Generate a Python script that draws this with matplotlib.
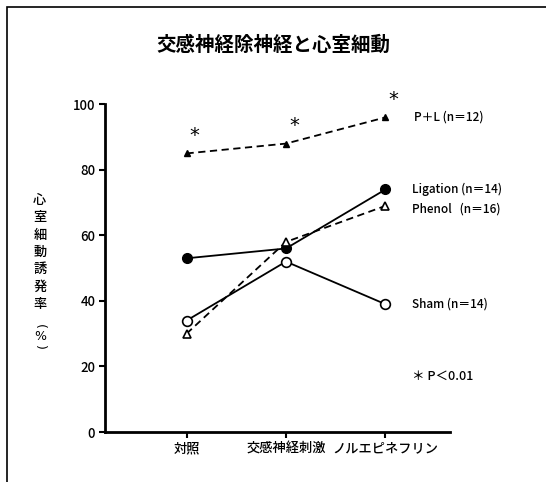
import matplotlib.pyplot as plt
from matplotlib.patches import Rectangle

plt.rcParams['font.family'] = ['Noto Sans CJK JP', 'DejaVu Sans']

categories = ['対照', '交感神経刺激', 'ノルエピネフリン']
pl_vals = [85, 88, 96]
ligation_vals = [53, 56, 74]
phenol_vals = [30, 58, 69]
sham_vals = [34, 52, 39]
series_labels = ['P＋L (n＝12)', 'Ligation (n＝14)', 'Phenol   (n＝16)', 'Sham (n＝14)']
yticks = [0, 20, 40, 60, 80, 100]
ylabel_chars = ['心', '室', '細', '動', '誘', '発', '率']

fig = plt.figure(figsize=(5.46, 4.82), dpi=100)
ax = fig.add_axes([0.1923, 0.1037, 0.632, 0.680])
x = list(range(len(categories)))

ax.plot(x, pl_vals, ls=(0, (4, 2.5)), color='black', lw=1.3, marker='^', ms=5,
        mfc='black', mec='black')
ax.plot(x, ligation_vals, ls='-', color='black', lw=1.3, marker='o', ms=7,
        mfc='black', mec='black')
ax.plot(x, phenol_vals, ls=(0, (4, 2.5)), color='black', lw=1.3, marker='^', ms=6,
        mfc='white', mec='black', mew=1.2)
ax.plot(x, sham_vals, ls='-', color='black', lw=1.3, marker='o', ms=7,
        mfc='white', mec='black', mew=1.2)

# significance asterisks above P+L points
for xi, yi in zip(x, pl_vals):
    ax.text(xi + 0.08, yi + 2.5, '*', fontsize=14, ha='center', va='bottom',
            family='DejaVu Sans')

# series labels at right
ax.text(2.29, 96, series_labels[0], fontsize=8.5, va='center', fontweight='medium')
ax.text(2.27, 74, series_labels[1], fontsize=8.5, va='center', fontweight='medium')
ax.text(2.27, 68, series_labels[2], fontsize=8.5, va='center', fontweight='medium')
ax.text(2.27, 39, series_labels[3], fontsize=8.5, va='center', fontweight='medium')
ax.text(2.27, 17, '＊ P＜0.01', fontsize=9, va='center', fontweight='medium')

ax.set_xlim(-0.82, 2.65)
ax.set_ylim(0, 100)
ax.set_xticks(x)
ax.set_xticklabels(categories, fontsize=9.5, fontweight='medium')
ax.set_yticks(yticks)
ax.set_yticklabels([str(t) for t in yticks], fontsize=9.5, fontweight='medium')
for s in ['top', 'right']:
    ax.spines[s].set_visible(False)
for s in ['left', 'bottom']:
    ax.spines[s].set_linewidth(2)
ax.tick_params(axis='both', direction='out', width=1.5, length=4, pad=3)

fig.text(0.5, 0.907, '交感神経除神経と心室細動', fontsize=14, ha='center',
         va='center', fontweight='bold')

# vertical y label, one character per line
for i, ch in enumerate(ylabel_chars):
    fig.text(0.073, 1 - (200 + i * 17.3) / 482, ch, fontsize=9.5, ha='center',
             va='center', fontweight='medium')
for py, ch in zip([326, 336, 347], ['(', '%', ')']):
    fig.text(0.073, 1 - py / 482, ch, fontsize=9, ha='center', va='center',
             fontweight='medium', family='DejaVu Sans',
             rotation=0 if ch == '%' else -90)

fig.patches.append(Rectangle((0.013, -0.01), 1.0, 0.995, transform=fig.transFigure,
                             fill=False, lw=1.2, ec='black'))

fig.savefig('out.png', dpi=100)
